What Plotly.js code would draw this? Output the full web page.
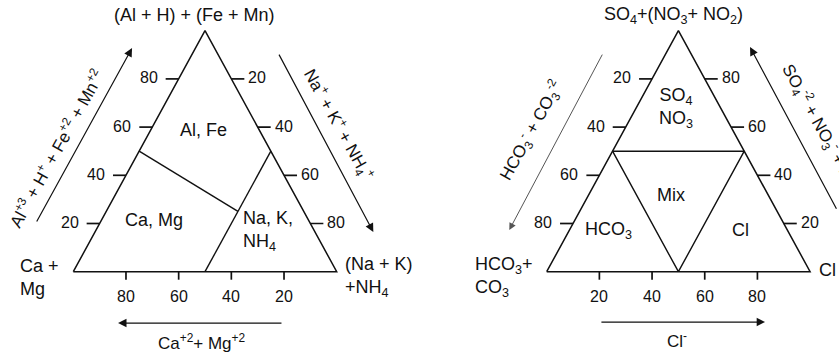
<!DOCTYPE html>
<html>
<head>
<meta charset="utf-8">
<script src="https://cdn.plot.ly/plotly-3.0.1.min.js"></script>
<style>
  html, body { margin: 0; padding: 0; background: #fff; }
  #chart { width: 839px; height: 358px; }
</style>
</head>
<body>
<div id="chart"></div>
<script>
// Two ternary diagrams (cations left, anions right). Every point is a
// composition [top, right] in percent; left = 100 - top - right.

const TICK_VALUES = [20, 40, 60, 80];

// cations: top = Al+H+Fe+Mn, right = Na+K+NH4, left = Ca+Mg
const CAT_OUTLINE_TOP = [0, 0, 100, 0];
const CAT_OUTLINE_RIGHT = [0, 100, 0, 0];
const CAT_CAAL_TOP = [50, 25];
const CAT_CAAL_RIGHT = [0, 50];
const CAT_NA_TOP = [0, 50];
const CAT_NA_RIGHT = [50, 50];
const CAT_REGIONS = ["Al, Fe", "Ca, Mg", "Na, K,<br>NH<sub>4</sub>"];
const CAT_REGION_TOP = [59, 21.5, 17];
const CAT_REGION_RIGHT = [20, 20, 55];

// anions: top = SO4+NO3+NO2, right = Cl, left = HCO3+CO3
const AN_OUTLINE_TOP = [0, 0, 100, 0];
const AN_OUTLINE_RIGHT = [0, 100, 0, 0];
const AN_SO4_TOP = [50, 50];
const AN_SO4_RIGHT = [0, 50];
const AN_MIX_TOP = [50, 0, 50];
const AN_MIX_RIGHT = [0, 50, 50];
const AN_REGIONS = ["SO<sub>4</sub><br>NO<sub>3</sub>", "Mix", "HCO<sub>3</sub>", "Cl"];
const AN_REGION_TOP = [68, 32, 17.3, 17.3];
const AN_REGION_RIGHT = [15, 31, 15, 65];

// page geometry (px)
const PAGE_W = 839;
const PAGE_H = 358;
const TRI_LEFT = [73.3, 546.7];
const TRI_BASE = 263.4;
const TRI_HEIGHT = 241;
const TRI_BOTTOM = 271.7;
const TICK_LEN = 13;
const BOTTOM_TICK_LEN = 8;

const FONT = "Liberation Sans, Arial, Helvetica, sans-serif";
const INK = "#111";

const ux = (px) => (px * 100) / TRI_BASE;
const uy = (px) => (px * 100) / TRI_HEIGHT;
const project = (top, right) => [right + top / 2, top];

function line(tops, rights, xa, ya, color, width) {
  const pts = tops.map((t, i) => project(t, rights[i]));
  return {
    type: "scatter", mode: "lines", xaxis: xa, yaxis: ya,
    x: pts.map((p) => p[0]), y: pts.map((p) => p[1]),
    line: { color: color || INK, width: width || 1.4 },
    hoverinfo: "skip", showlegend: false,
  };
}

function ticks(edges, xa, ya, annotations) {
  const xs = [], ys = [];
  const add = (x0, y0, x1, y1) => { xs.push(x0, x1, null); ys.push(y0, y1, null); };
  const tickFont = { size: 16 };
  TICK_VALUES.forEach((v) => {
    let [x, y] = project(...edges.left(v));
    add(x, y, x - ux(TICK_LEN), y);
    annotations.push({ xref: xa, yref: ya, x: x - ux(TICK_LEN + 6), y: y + uy(1), text: String(v),
      xanchor: "right", yanchor: "middle", showarrow: false, font: tickFont });

    [x, y] = project(...edges.right(v));
    add(x, y, x + ux(TICK_LEN), y);
    annotations.push({ xref: xa, yref: ya, x: x + ux(TICK_LEN + 2), y: y + uy(1), text: String(v),
      xanchor: "left", yanchor: "middle", showarrow: false, font: tickFont });

    [x, y] = project(...edges.bottom(v));
    add(x, y, x, y - uy(BOTTOM_TICK_LEN));
    annotations.push({ xref: xa, yref: ya, x, y: y - uy(25), text: String(v),
      xanchor: "center", yanchor: "middle", showarrow: false, font: tickFont });
  });
  return {
    type: "scatter", mode: "lines", xaxis: xa, yaxis: ya, x: xs, y: ys,
    line: { color: INK, width: 1.7 }, hoverinfo: "skip", showlegend: false,
  };
}

function regionLabels(names, tops, rights, anchors, xa, ya, annotations) {
  names.forEach((name, i) => {
    const [x, y] = project(tops[i], rights[i]);
    annotations.push({ xref: xa, yref: ya, x, y, text: name, showarrow: false,
      xanchor: anchors[i], yanchor: "middle", align: anchors[i] === "left" ? "left" : "center",
      font: { size: 18 } });
  });
}

function arrow(xa, ya, head, tail, color, width) {
  return {
    xref: xa, yref: ya, axref: xa, ayref: ya,
    x: head[0], y: head[1], ax: tail[0], ay: tail[1], text: "",
    showarrow: true, arrowhead: 2, arrowsize: 1.4, arrowwidth: width || 1.2,
    arrowcolor: color || INK, standoff: 0, startstandoff: 0,
  };
}

function label(xa, ya, x, y, text, opts) {
  return Object.assign({ xref: xa, yref: ya, x, y, text, showarrow: false,
    xanchor: "center", yanchor: "middle", font: { size: 17 } }, opts || {});
}

const annotations = [];
const traces = [];
const big = { font: { size: 18 } };

// ---- cation diagram
traces.push(line(CAT_OUTLINE_TOP, CAT_OUTLINE_RIGHT, "x", "y", INK, 1.5));
traces.push(line(CAT_CAAL_TOP, CAT_CAAL_RIGHT, "x", "y"));
traces.push(line(CAT_NA_TOP, CAT_NA_RIGHT, "x", "y"));
traces.push(ticks({
  left: (v) => [v, 0],
  right: (v) => [100 - v, v],
  bottom: (v) => [0, 100 - v],
}, "x", "y", annotations));
regionLabels(CAT_REGIONS, CAT_REGION_TOP, CAT_REGION_RIGHT, ["center", "center", "left"], "x", "y", annotations);

annotations.push(
  label("x", "y", 46.2, 106.5, "(Al + H) + (Fe + Mn)", big),
  label("x", "y", -21, -2.3, "Ca +<br>Mg", { xanchor: "left", align: "left", font: { size: 18 } }),
  label("x", "y", 102.4, -2.3, "(Na + K)<br>+NH<sub>4</sub>", { xanchor: "left", align: "left", font: { size: 18 } }),
  label("x", "y", -6.6, 51.5, "Al<sup>+3</sup> + H<sup>+</sup> + Fe<sup>+2</sup> + Mn<sup>+2</sup>", { textangle: -61 }),
  label("x", "y", 100.5, 60.9, "Na<sup>+</sup> + K<sup>+</sup> + NH<sub>4</sub><sup>+</sup>", { textangle: 61 }),
  label("x", "y", 48.9, -29, "Ca<sup>+2</sup>+ Mg<sup>+2</sup>"),
  arrow("x", "y", [22.3, 92.8], [-14.2, 20.2]),
  arrow("x", "y", [113.9, 16.5], [77.8, 90.7]),
  arrow("x", "y", [17.0, -21.3], [79.6, -21.3]),
);

// ---- anion diagram
traces.push(line(AN_OUTLINE_TOP, AN_OUTLINE_RIGHT, "x2", "y2", INK, 1.5));
traces.push(line(AN_SO4_TOP, AN_SO4_RIGHT, "x2", "y2"));
traces.push(line(AN_MIX_TOP, AN_MIX_RIGHT, "x2", "y2"));
traces.push(ticks({
  left: (v) => [100 - v, 0],
  right: (v) => [v, 100 - v],
  bottom: (v) => [0, v],
}, "x2", "y2", annotations));
regionLabels(AN_REGIONS, AN_REGION_TOP, AN_REGION_RIGHT, ["center", "center", "center", "center"], "x2", "y2", annotations);

annotations.push(
  label("x2", "y2", 48.3, 106.5, "SO<sub>4</sub>+(NO<sub>3</sub>+ NO<sub>2</sub>)", big),
  label("x2", "y2", -28, -2.3, "HCO<sub>3</sub>+<br>CO<sub>3</sub>", { xanchor: "left", align: "left", font: { size: 18 } }),
  label("x2", "y2", 102.7, 0.7, "Cl", { xanchor: "left", font: { size: 18 } }),
  label("x2", "y2", -5.6, 58.8, "HCO<sub>3</sub><sup>-</sup> + CO<sub>3</sub><sup>-2</sup>", { textangle: -61 }),
  label("x2", "y2", 85.9, 89.1, "SO<sub>4</sub><sup>-2</sup> + NO<sub>3</sub><sup>-</sup> + NO<sub>2</sub><sup>-</sup>",
    { textangle: 61, xanchor: "left", yanchor: "top" }),
  label("x2", "y2", 49.5, -28.3, "Cl<sup>-</sup>"),
  arrow("x2", "y2", [-14.2, 17.3], [21.4, 90.7], "#555", 1),
  arrow("x2", "y2", [77.2, 93.2], [110.3, 25.5]),
  arrow("x2", "y2", [82.9, -20.9], [20.2, -20.9]),
);

// each diagram owns half the page; ranges put 0..100 on the triangle base
function xAxis(i) {
  const pxStart = (i * PAGE_W) / 2;
  const pxEnd = ((i + 1) * PAGE_W) / 2;
  return {
    domain: [i * 0.5, (i + 1) * 0.5],
    range: [ux(pxStart - TRI_LEFT[i]), ux(pxEnd - TRI_LEFT[i])],
    visible: false, fixedrange: true,
  };
}
const yAxis = {
  domain: [0, 1],
  range: [uy(TRI_BOTTOM - PAGE_H), uy(TRI_BOTTOM)],
  visible: false, fixedrange: true,
};

const layout = {
  width: PAGE_W,
  height: PAGE_H,
  margin: { t: 0, r: 0, b: 0, l: 0 },
  paper_bgcolor: "#fff",
  plot_bgcolor: "#fff",
  font: { family: FONT, size: 15, color: INK },
  showlegend: false,
  hovermode: false,
  xaxis: xAxis(0),
  yaxis: Object.assign({ anchor: "x" }, yAxis),
  xaxis2: Object.assign({ anchor: "y2" }, xAxis(1)),
  yaxis2: Object.assign({ anchor: "x2" }, yAxis),
  annotations,
};

Plotly.newPlot("chart", traces, layout, { displayModeBar: false, staticPlot: true });
</script>
</body>
</html>
